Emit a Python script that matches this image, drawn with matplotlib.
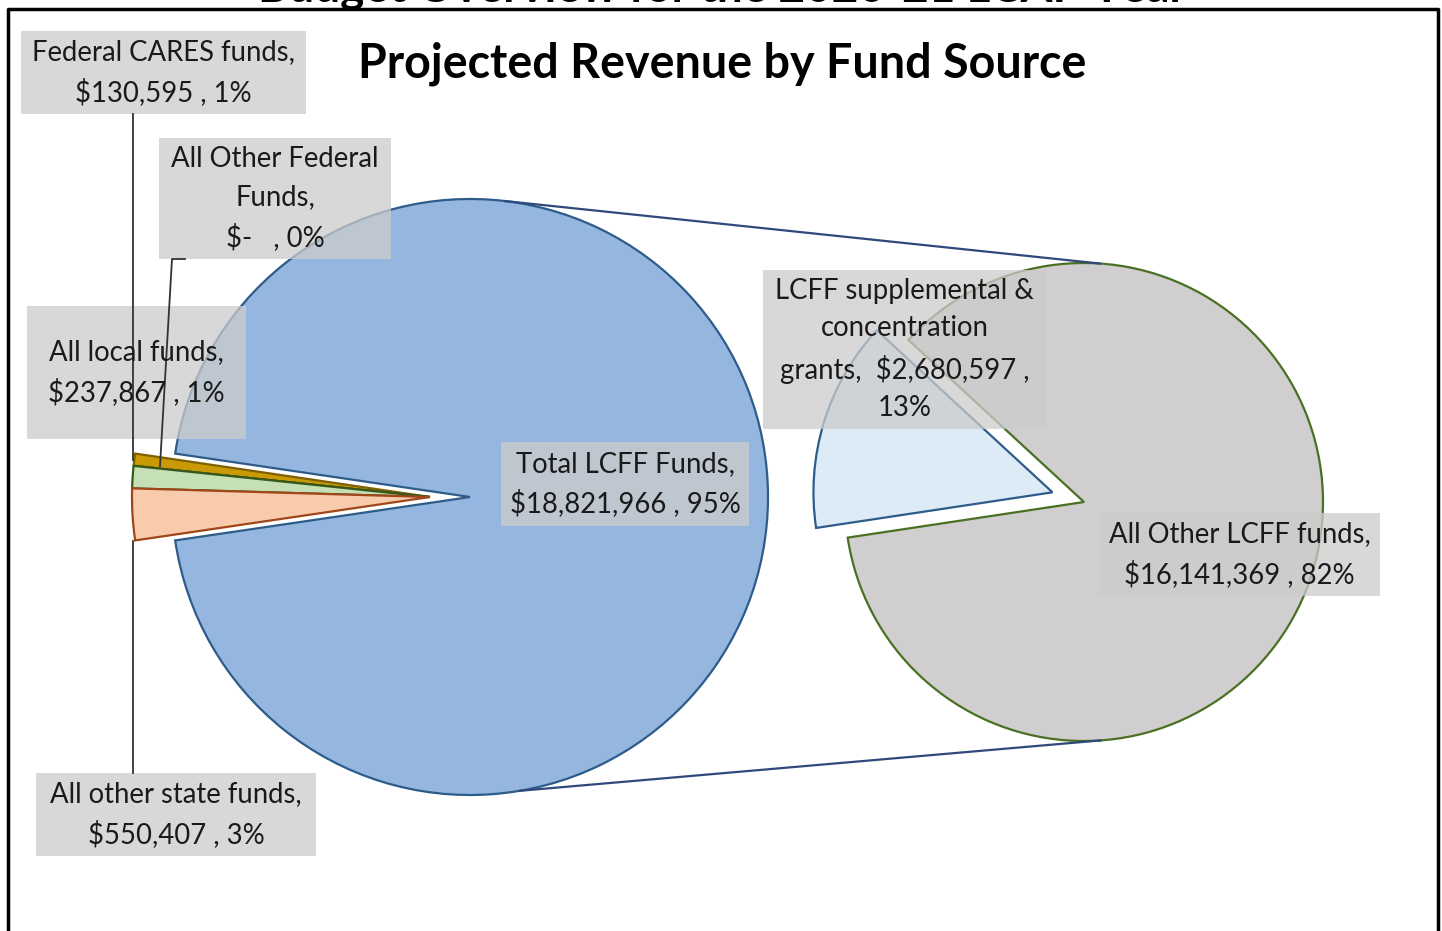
import numpy as np
import matplotlib
matplotlib.use('Agg')
from matplotlib import pyplot as plt
from matplotlib.patches import Rectangle

# data
main_labels = ['Total LCFF Funds', 'Federal CARES funds', 'All Other Federal Funds',
               'All local funds', 'All other state funds']
main_values = [18821966, 130595, 0, 237867, 550407]
main_colors = ['#95B7DF', '#C99A06', '#B4C7E7', '#C5E0B4', '#F8CBAD']
main_edges = ['#2E5C8A', '#7F6000', '#38571A', '#38571A', '#A0461A']

lcff_labels = ['LCFF supplemental & concentration grants', 'All Other LCFF funds']
lcff_values = [2680597, 16141369]
lcff_colors = ['#DDEBF7', '#D0CECE']
lcff_edges = ['#2E5C8A', '#4A7023']

label_texts = {
    'Federal CARES funds': 'Federal CARES funds,\n$130,595 , 1%',
    'All Other Federal Funds': 'All Other Federal\nFunds,\n$-   , 0%',
    'All local funds': 'All local funds,\n$237,867 , 1%',
    'All other state funds': 'All other state funds,\n$550,407 , 3%',
    'Total LCFF Funds': 'Total LCFF Funds,\n$18,821,966 , 95%',
    'LCFF supplemental & concentration grants': 'LCFF supplemental &\nconcentration\ngrants,  $2,680,597 ,\n13%',
    'All Other LCFF funds': 'All Other LCFF funds,\n$16,141,369 , 82%',
}

W, H = 1442, 931
plt.rcParams['font.family'] = ['Lato', 'DejaVu Sans']

fig = plt.figure(figsize=(W / 100, H / 100), dpi=100)
ax = fig.add_axes([0, 0, 1, 1])


def Y(y):
    return H - y


# main pie
c1 = (470, Y(497))
r1 = 298
tot = sum(main_values)
lcff_ang = main_values[0] / tot * 360
wedges1, _ = ax.pie(main_values, colors=main_colors, startangle=-lcff_ang / 2,
                    counterclock=True, center=c1, radius=r1,
                    wedgeprops=dict(linewidth=1.6, zorder=1))
for w, ec in zip(wedges1, main_edges):
    w.set_edgecolor(ec)
for w in wedges1[1:]:
    w.set_center((c1[0] - 40, c1[1]))

# second pie
c2 = (1084, Y(502))
r2 = 239
wedges2, _ = ax.pie(lcff_values, colors=lcff_colors, startangle=137.3,
                    counterclock=True, center=c2, radius=r2, explode=[33, 0],
                    wedgeprops=dict(linewidth=1.6, zorder=1))
for w, ec in zip(wedges2, lcff_edges):
    w.set_edgecolor(ec)

# connector lines
for a1, a2 in [(83.3, 86.2), (-80.4, -86.0)]:
    p1 = (c1[0] + r1 * np.cos(np.radians(a1)), c1[1] + r1 * np.sin(np.radians(a1)))
    p2 = (c2[0] + r2 * np.cos(np.radians(a2)), c2[1] + r2 * np.sin(np.radians(a2)))
    ax.plot([p1[0], p2[0]], [p1[1], p2[1]], color='#2E4A7A', lw=1.6, zorder=2)

ax.set_xlim(0, W)
ax.set_ylim(0, H)
ax.set_aspect('auto')
ax.axis('off')

# label boxes (x0, y0, x1, y1 in image px)
boxes = {
    'Federal CARES funds': (21, 31, 306, 114),
    'All Other Federal Funds': (159, 138, 391, 259),
    'All local funds': (27, 306, 246, 439),
    'All other state funds': (36, 773, 316, 856),
    'Total LCFF Funds': (501, 442, 749, 526),
    'LCFF supplemental & concentration grants': (763, 270, 1046, 429),
    'All Other LCFF funds': (1099, 513, 1380, 596),
}
for key, (x0, y0, x1, y1) in boxes.items():
    ax.add_patch(Rectangle((x0, Y(y1)), x1 - x0, y1 - y0, facecolor='#CCCCCC',
                           alpha=0.75, edgecolor='none', zorder=3))
    ax.text((x0 + x1) / 2, Y((y0 + y1) / 2), label_texts[key], ha='center', va='center',
            fontsize=19.8, color='#1A1A1A', linespacing=1.55, zorder=5)

# leader lines
ax.plot([133, 133], [Y(114), Y(460)], color='#333333', lw=1.3, zorder=4)
ax.plot([185, 172, 160], [Y(259), Y(259), Y(466)], color='#333333', lw=1.3, zorder=4)
ax.plot([133, 133], [Y(773), Y(541)], color='#333333', lw=1.3, zorder=4)

# titles
ax.text(722, Y(64), 'Projected Revenue by Fund Source', ha='center', va='center',
        fontsize=33.6, fontweight='bold', color='black', zorder=5)
ax.text(722, Y(2), 'Budget Overview for the 2020-21 LCAP Year', ha='center', va='baseline',
        fontsize=33, fontweight='bold', color='black', zorder=5)

# frame
ax.plot([8, 8, 1438, 1438], [-10, Y(9), Y(9), -10], color='black', lw=2.5, zorder=6,
        clip_on=False)

fig.savefig('out.png', dpi=100)
